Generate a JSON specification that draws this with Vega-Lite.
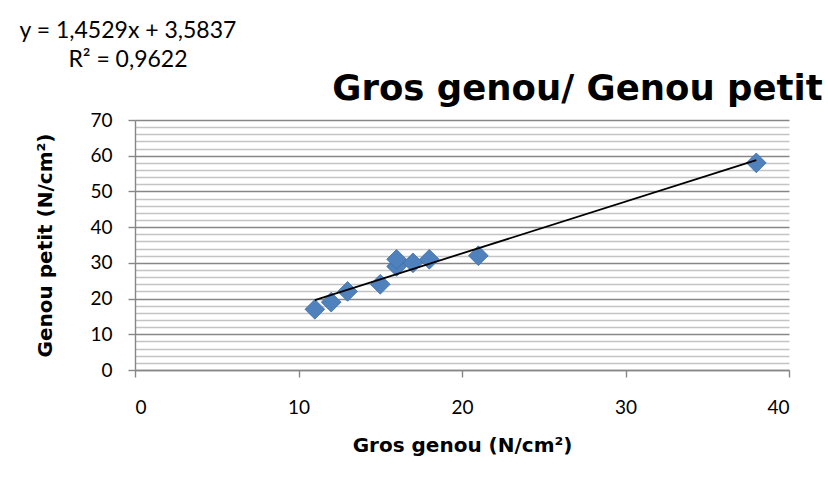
{
  "$schema": "https://vega.github.io/schema/vega-lite/v6.json",
  "background": "white",
  "padding": {"left": 19, "top": 20, "right": 5, "bottom": 30},
  "title": {
    "text": ["y = 1,4529x + 3,5837", "R² = 0,9622"],
    "anchor": "start",
    "align": "center",
    "frame": "bounds",
    "font": "Lato",
    "fontSize": 23,
    "fontWeight": "normal",
    "color": "black",
    "lineHeight": 29,
    "dx": 92,
    "offset": 0
  },
  "datasets": {
    "pts": [
      {"x": 11, "y": 17},
      {"x": 12, "y": 19},
      {"x": 13, "y": 22},
      {"x": 15, "y": 24},
      {"x": 16, "y": 29},
      {"x": 16, "y": 31},
      {"x": 17, "y": 30},
      {"x": 18, "y": 31},
      {"x": 21, "y": 32},
      {"x": 38, "y": 58}
    ]
  },
  "vconcat": [
    {
      "width": 654,
      "height": 250,
      "title": {
        "text": "Gros genou/ Genou petit",
        "anchor": "end",
        "font": "DejaVu Sans",
        "fontSize": 35.5,
        "fontWeight": "bold",
        "color": "black",
        "dx": 33,
        "offset": 3.5
      },
      "data": {"name": "pts"},
      "layer": [
        {
          "mark": {"type": "point", "shape": "diamond", "filled": true, "size": 390, "color": "#4F81BD", "stroke": "#3F6FA8", "strokeWidth": 0.8, "opacity": 1},
          "encoding": {
            "x": {
              "field": "x", "type": "quantitative",
              "scale": {"domain": [0, 40], "nice": false, "zero": true},
              "axis": {
                "values": [0, 10, 20, 30, 40],
                "format": "d",
                "grid": false,
                "title": "Gros genou (N/cm²)",
                "labelPadding": 21,
                "titlePadding": 18
              }
            },
            "y": {
              "field": "y", "type": "quantitative",
              "scale": {"domain": [0, 70], "nice": false},
              "axis": {
                "values": [0,2,4,6,8,10,12,14,16,18,20,22,24,26,28,30,32,34,36,38,40,42,44,46,48,50,52,54,56,58,60,62,64,66,68,70],
                "tickCount": 100,
                "format": "d",
                "labelExpr": "datum.value % 10 === 0 ? datum.label : ''",
                "labelOverlap": false,
                "grid": true,
                "gridColor": {"condition": {"test": "datum.value % 10 === 0", "value": "#878787"}, "value": "#c4c4c4"},
                "gridWidth": {"condition": {"test": "datum.value % 10 === 0", "value": 1.4}, "value": 1.3},
                "tickOpacity": {"condition": {"test": "datum.value % 10 === 0", "value": 1}, "value": 0},
                "title": "Genou petit (N/cm²)",
                "labelPadding": 16,
                "titlePadding": 34
              }
            }
          }
        },
        {
          "transform": [{"regression": "y", "on": "x"}],
          "mark": {"type": "line", "color": "black", "strokeWidth": 1.8},
          "encoding": {
            "x": {"field": "x", "type": "quantitative"},
            "y": {"field": "y", "type": "quantitative"}
          }
        }
      ]
    }
  ],
  "config": {
    "view": {"stroke": null},
    "axis": {
      "labelFont": "Lato",
      "labelFontSize": 19,
      "labelColor": "black",
      "titleFont": "DejaVu Sans",
      "titleFontSize": 20,
      "titleFontWeight": "bold",
      "titleColor": "black",
      "domainColor": "#878787",
      "domainWidth": 1.4,
      "tickColor": "#878787",
      "tickWidth": 1.4,
      "tickSize": 7
    }
  }
}
